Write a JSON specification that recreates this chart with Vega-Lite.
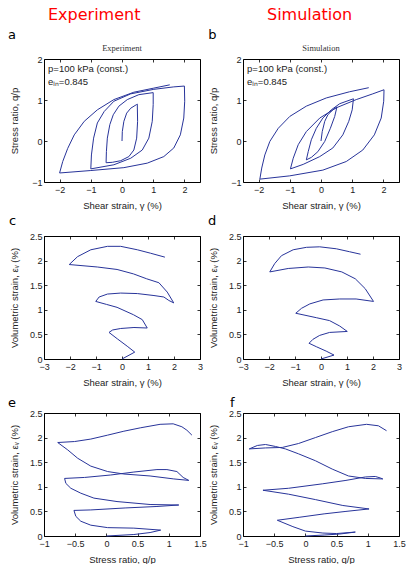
{
  "$schema": "https://vega.github.io/schema/vega-lite/v6.json",
  "padding": {"left": 7, "top": 6, "right": 1, "bottom": 0},
  "background": "white",
  "config": {
    "view": {"stroke": "#000", "strokeWidth": 1},
    "axis": {"domain": false, "grid": false, "tickColor": "#000", "tickSize": -3, "tickWidth": 0.8, "labelFlush": false, "labelOverlap": false, "labelFont": "Liberation Sans", "labelFontSize": 9, "labelColor": "#222", "titleFont": "Liberation Sans", "titleFontSize": 9.5, "titleFontWeight": "normal", "titleColor": "#222"},
    "axisX": {"labelPadding": 6, "minExtent": 16, "maxExtent": 16, "titlePadding": 2},
    "axisY": {"labelPadding": 5, "minExtent": 25, "maxExtent": 25, "titlePadding": 0},
    "title": {"font": "DejaVu Sans", "fontSize": 13, "fontWeight": "normal", "color": "#000", "anchor": "start", "frame": "group"}
  },
  "datasets": {
    "a": [
      {"i":0,"x":0,"y":0},{"i":1,"x":0.01,"y":0.23},{"i":2,"x":0.06,"y":0.48},{"i":3,"x":0.15,"y":0.68},{"i":4,"x":0.28,"y":0.8},{"i":5,"x":0.47,"y":0.89},{"i":6,"x":0.49,"y":0.9},
      {"i":7,"x":0.5,"y":0.48},{"i":8,"x":0.47,"y":0.07},{"i":9,"x":0.38,"y":-0.22},{"i":10,"x":0.22,"y":-0.38},{"i":11,"x":-0.04,"y":-0.48},{"i":12,"x":-0.31,"y":-0.52},{"i":13,"x":-0.51,"y":-0.53},
      {"i":14,"x":-0.5,"y":-0.26},{"i":15,"x":-0.47,"y":0.07},{"i":16,"x":-0.39,"y":0.4},{"i":17,"x":-0.28,"y":0.64},{"i":18,"x":-0.1,"y":0.85},{"i":19,"x":0.17,"y":1.01},{"i":20,"x":0.54,"y":1.13},{"i":21,"x":1.0,"y":1.18},
      {"i":22,"x":1.0,"y":0.89},{"i":23,"x":0.97,"y":0.48},{"i":24,"x":0.86,"y":0.07},{"i":25,"x":0.65,"y":-0.22},{"i":26,"x":0.28,"y":-0.42},{"i":27,"x":-0.26,"y":-0.58},{"i":28,"x":-1.0,"y":-0.68},
      {"i":29,"x":-0.98,"y":-0.34},{"i":30,"x":-0.91,"y":0.07},{"i":31,"x":-0.79,"y":0.44},{"i":32,"x":-0.57,"y":0.72},{"i":33,"x":-0.26,"y":0.97},{"i":34,"x":0.28,"y":1.15},{"i":35,"x":1.02,"y":1.26},{"i":36,"x":1.66,"y":1.32},{"i":37,"x":2.0,"y":1.34},
      {"i":38,"x":2.01,"y":0.97},{"i":39,"x":1.98,"y":0.56},{"i":40,"x":1.87,"y":0.15},{"i":41,"x":1.66,"y":-0.17},{"i":42,"x":1.34,"y":-0.38},{"i":43,"x":0.81,"y":-0.54},{"i":44,"x":0.06,"y":-0.65},{"i":45,"x":-1.0,"y":-0.72},{"i":46,"x":-2.0,"y":-0.78},
      {"i":47,"x":-1.9,"y":-0.5},{"i":48,"x":-1.74,"y":-0.18},{"i":49,"x":-1.53,"y":0.15},{"i":50,"x":-1.21,"y":0.48},{"i":51,"x":-0.79,"y":0.76},{"i":52,"x":-0.26,"y":1.01},{"i":53,"x":0.38,"y":1.19},{"i":54,"x":1.02,"y":1.29},{"i":55,"x":1.53,"y":1.37}
    ],
    "b": [
      {"i":0,"x":0,"y":0},{"i":1,"x":0.04,"y":0.23},{"i":2,"x":0.12,"y":0.48},{"i":3,"x":0.22,"y":0.64},{"i":4,"x":0.38,"y":0.76},{"i":5,"x":0.51,"y":0.83},
      {"i":6,"x":0.44,"y":0.6},{"i":7,"x":0.3,"y":0.31},{"i":8,"x":0.12,"y":-0.01},{"i":9,"x":-0.1,"y":-0.26},{"i":10,"x":-0.31,"y":-0.4},{"i":11,"x":-0.47,"y":-0.46},
      {"i":12,"x":-0.41,"y":-0.26},{"i":13,"x":-0.31,"y":0.03},{"i":14,"x":-0.15,"y":0.31},{"i":15,"x":0.06,"y":0.56},{"i":16,"x":0.33,"y":0.76},{"i":17,"x":0.6,"y":0.91},{"i":18,"x":1.04,"y":1.03},
      {"i":19,"x":1.0,"y":0.76},{"i":20,"x":0.89,"y":0.48},{"i":21,"x":0.7,"y":0.15},{"i":22,"x":0.38,"y":-0.17},{"i":23,"x":-0.04,"y":-0.38},{"i":24,"x":-0.57,"y":-0.57},{"i":25,"x":-0.98,"y":-0.68},
      {"i":26,"x":-0.89,"y":-0.42},{"i":27,"x":-0.73,"y":-0.09},{"i":28,"x":-0.47,"y":0.23},{"i":29,"x":-0.04,"y":0.56},{"i":30,"x":0.49,"y":0.81},{"i":31,"x":1.13,"y":1.01},{"i":32,"x":1.66,"y":1.15},{"i":33,"x":2.02,"y":1.25},
      {"i":34,"x":2.01,"y":0.97},{"i":35,"x":1.93,"y":0.56},{"i":36,"x":1.71,"y":0.15},{"i":37,"x":1.34,"y":-0.22},{"i":38,"x":0.81,"y":-0.5},{"i":39,"x":0.06,"y":-0.71},{"i":40,"x":-1.0,"y":-0.85},{"i":41,"x":-1.96,"y":-0.93},
      {"i":42,"x":-1.9,"y":-0.66},{"i":43,"x":-1.8,"y":-0.34},{"i":44,"x":-1.64,"y":-0.01},{"i":45,"x":-1.37,"y":0.31},{"i":46,"x":-1.0,"y":0.6},{"i":47,"x":-0.47,"y":0.85},{"i":48,"x":0.17,"y":1.05},{"i":49,"x":0.91,"y":1.2},{"i":50,"x":1.53,"y":1.3}
    ],
    "c": [
      {"i":0,"x":0,"y":0},{"i":1,"x":0.49,"y":0.14},{"i":2,"x":0.2,"y":0.26},{"i":3,"x":-0.18,"y":0.41},{"i":4,"x":-0.5,"y":0.54},
      {"i":5,"x":-0.36,"y":0.59},{"i":6,"x":-0.05,"y":0.62},{"i":7,"x":0.46,"y":0.64},{"i":8,"x":0.97,"y":0.63},
      {"i":9,"x":0.78,"y":0.8},{"i":10,"x":0.44,"y":0.9},{"i":11,"x":-0.19,"y":1.05},{"i":12,"x":-0.6,"y":1.11},{"i":13,"x":-1.01,"y":1.17},
      {"i":14,"x":-0.88,"y":1.26},{"i":15,"x":-0.56,"y":1.32},{"i":16,"x":-0.05,"y":1.34},{"i":17,"x":0.59,"y":1.33},{"i":18,"x":1.23,"y":1.29},{"i":19,"x":1.61,"y":1.26},{"i":20,"x":1.8,"y":1.19},{"i":21,"x":1.99,"y":1.14},
      {"i":22,"x":1.74,"y":1.36},{"i":23,"x":1.42,"y":1.55},{"i":24,"x":0.95,"y":1.63},{"i":25,"x":0.44,"y":1.73},{"i":26,"x":-0.19,"y":1.82},{"i":27,"x":-0.95,"y":1.87},{"i":28,"x":-2.03,"y":1.92},
      {"i":29,"x":-1.71,"y":2.08},{"i":30,"x":-1.2,"y":2.22},{"i":31,"x":-0.56,"y":2.29},{"i":32,"x":-0.05,"y":2.29},{"i":33,"x":0.59,"y":2.22},{"i":34,"x":1.1,"y":2.15},{"i":35,"x":1.65,"y":2.07}
    ],
    "d": [
      {"i":0,"x":0,"y":0},{"i":1,"x":0.5,"y":0.08},{"i":2,"x":0.2,"y":0.16},{"i":3,"x":-0.18,"y":0.25},{"i":4,"x":-0.46,"y":0.32},
      {"i":5,"x":-0.31,"y":0.4},{"i":6,"x":-0.05,"y":0.48},{"i":7,"x":0.33,"y":0.54},{"i":8,"x":1.01,"y":0.56},
      {"i":9,"x":0.72,"y":0.67},{"i":10,"x":0.33,"y":0.78},{"i":11,"x":-0.18,"y":0.84},{"i":12,"x":-0.97,"y":0.93},
      {"i":13,"x":-0.75,"y":1.03},{"i":14,"x":-0.43,"y":1.12},{"i":15,"x":0.08,"y":1.2},{"i":16,"x":0.72,"y":1.22},{"i":17,"x":1.35,"y":1.22},{"i":18,"x":2.02,"y":1.17},
      {"i":19,"x":1.7,"y":1.43},{"i":20,"x":1.32,"y":1.63},{"i":21,"x":0.8,"y":1.77},{"i":22,"x":0.15,"y":1.85},{"i":23,"x":-0.49,"y":1.87},{"i":24,"x":-1.26,"y":1.84},{"i":25,"x":-1.97,"y":1.77},
      {"i":26,"x":-1.78,"y":1.94},{"i":27,"x":-1.52,"y":2.1},{"i":28,"x":-1.07,"y":2.22},{"i":29,"x":-0.56,"y":2.27},{"i":30,"x":-0.05,"y":2.28},{"i":31,"x":0.59,"y":2.24},{"i":32,"x":1.1,"y":2.18},{"i":33,"x":1.52,"y":2.13}
    ],
    "e": [
      {"i":0,"x":0,"y":0},{"i":1,"x":0.44,"y":0.03},{"i":2,"x":0.7,"y":0.07},{"i":3,"x":0.87,"y":0.12},
      {"i":4,"x":0.44,"y":0.16},{"i":5,"x":0.02,"y":0.17},{"i":6,"x":-0.25,"y":0.22},{"i":7,"x":-0.41,"y":0.3},{"i":8,"x":-0.49,"y":0.4},{"i":9,"x":-0.52,"y":0.52},
      {"i":10,"x":-0.25,"y":0.53},{"i":11,"x":0.3,"y":0.57},{"i":12,"x":0.81,"y":0.6},{"i":13,"x":1.16,"y":0.63},
      {"i":14,"x":0.7,"y":0.64},{"i":15,"x":0.17,"y":0.7},{"i":16,"x":-0.2,"y":0.77},{"i":17,"x":-0.41,"y":0.87},{"i":18,"x":-0.57,"y":0.97},{"i":19,"x":-0.65,"y":1.07},{"i":20,"x":-0.67,"y":1.17},
      {"i":21,"x":-0.35,"y":1.19},{"i":22,"x":0.07,"y":1.24},{"i":23,"x":0.44,"y":1.3},{"i":24,"x":0.81,"y":1.35},{"i":25,"x":0.97,"y":1.35},{"i":26,"x":1.13,"y":1.31},{"i":27,"x":1.23,"y":1.19},{"i":28,"x":1.32,"y":1.13},
      {"i":29,"x":1.08,"y":1.16},{"i":30,"x":0.7,"y":1.22},{"i":31,"x":0.28,"y":1.26},{"i":32,"x":0.02,"y":1.31},{"i":33,"x":-0.25,"y":1.42},{"i":34,"x":-0.46,"y":1.58},{"i":35,"x":-0.62,"y":1.75},{"i":36,"x":-0.78,"y":1.9},
      {"i":37,"x":-0.51,"y":1.92},{"i":38,"x":-0.25,"y":1.97},{"i":39,"x":0.02,"y":2.05},{"i":40,"x":0.28,"y":2.13},{"i":41,"x":0.55,"y":2.2},{"i":42,"x":0.86,"y":2.27},{"i":43,"x":1.07,"y":2.28},{"i":44,"x":1.21,"y":2.22},{"i":45,"x":1.29,"y":2.15},{"i":46,"x":1.37,"y":2.05}
    ],
    "f": [
      {"i":0,"x":0,"y":0},{"i":1,"x":0.3,"y":0.02},{"i":2,"x":0.55,"y":0.04},{"i":3,"x":0.8,"y":0.08},
      {"i":4,"x":0.5,"y":0.05},{"i":5,"x":0.28,"y":0.06},{"i":6,"x":0,"y":0.1},{"i":7,"x":-0.2,"y":0.19},{"i":8,"x":-0.45,"y":0.32},
      {"i":9,"x":-0.1,"y":0.38},{"i":10,"x":0.3,"y":0.45},{"i":11,"x":0.65,"y":0.5},{"i":12,"x":1.02,"y":0.55},
      {"i":13,"x":0.6,"y":0.62},{"i":14,"x":0.16,"y":0.74},{"i":15,"x":-0.27,"y":0.85},{"i":16,"x":-0.68,"y":0.93},
      {"i":17,"x":-0.27,"y":0.97},{"i":18,"x":0.27,"y":1.06},{"i":19,"x":0.65,"y":1.13},{"i":20,"x":0.96,"y":1.2},{"i":21,"x":1.12,"y":1.21},{"i":22,"x":1.2,"y":1.18},{"i":23,"x":1.24,"y":1.16},
      {"i":24,"x":0.96,"y":1.17},{"i":25,"x":0.69,"y":1.22},{"i":26,"x":0.43,"y":1.36},{"i":27,"x":0.16,"y":1.53},{"i":28,"x":-0.11,"y":1.67},{"i":29,"x":-0.32,"y":1.77},{"i":30,"x":-0.48,"y":1.82},{"i":31,"x":-0.64,"y":1.86},{"i":32,"x":-0.77,"y":1.84},{"i":33,"x":-0.9,"y":1.77},
      {"i":34,"x":-0.64,"y":1.79},{"i":35,"x":-0.37,"y":1.8},{"i":36,"x":-0.11,"y":1.88},{"i":37,"x":0.16,"y":2.0},{"i":38,"x":0.43,"y":2.12},{"i":39,"x":0.69,"y":2.22},{"i":40,"x":0.98,"y":2.27},{"i":41,"x":1.17,"y":2.24},{"i":42,"x":1.3,"y":2.14}
    ]
  },
  "columns": 2,
  "spacing": {"row": 54, "column": 43},
  "bounds": "flush",
  "concat": [
    {
      "width": 156, "height": 123,
      "title": {"text": "Experiment", "font": "DejaVu Sans", "fontSize": 16, "color": "#ff0000", "dx": 4, "offset": 6},
      "resolve": {"axis": {"x": "independent", "y": "independent"}},
      "layer": [
        {"data": {"name": "a"}, "mark": {"type": "line", "color": "#28349a", "strokeWidth": 1},
         "encoding": {
           "x": {"field": "x", "type": "quantitative", "scale": {"domain": [-2.5, 2.5], "nice": false, "zero": false}, "axis": {"title": "Shear strain, γ (%)", "values": [-2, -1, 0, 1, 2], "format": "~g"}},
           "y": {"field": "y", "type": "quantitative", "scale": {"domain": [-1, 2], "nice": false, "zero": false}, "axis": {"title": "Stress ratio, q/p", "values": [-1, 0, 1, 2], "format": "~g"}},
           "order": {"field": "i"}}},
        {"data": {"name": "a"}, "mark": {"type": "line", "strokeOpacity": 0},
         "encoding": {
           "x": {"field": "x", "type": "quantitative", "scale": {"domain": [-2.5, 2.5], "nice": false, "zero": false}, "axis": {"orient": "top", "labels": false, "title": null, "minExtent": 0, "values": [-2, -1, 0, 1, 2]}},
           "y": {"field": "y", "type": "quantitative", "scale": {"domain": [-1, 2], "nice": false, "zero": false}, "axis": {"orient": "right", "labels": false, "title": null, "minExtent": 0, "values": [-1, 0, 1, 2]}},
           "order": {"field": "i"}}},
        {"data": {"values": [{}]}, "mark": {"type": "text", "align": "left", "baseline": "alphabetic", "font": "DejaVu Sans", "fontSize": 13, "color": "#000"},
         "encoding": {"x": {"datum": -3.65, "type": "quantitative", "axis": null}, "y": {"datum": 2.49, "type": "quantitative", "axis": null}, "text": {"value": "a"}}},
        {"data": {"values": [{}]}, "mark": {"type": "text", "align": "center", "baseline": "alphabetic", "font": "Liberation Serif", "fontSize": 8.5, "color": "#333"},
         "encoding": {"x": {"datum": 0, "type": "quantitative", "axis": null}, "y": {"datum": 2.195, "type": "quantitative", "axis": null}, "text": {"value": "Experiment"}}},
        {"data": {"values": [{}]}, "mark": {"type": "text", "align": "left", "baseline": "alphabetic", "font": "Liberation Sans", "fontSize": 9.5, "color": "#222"},
         "encoding": {"x": {"datum": -2.37, "type": "quantitative", "axis": null}, "y": {"datum": 1.68, "type": "quantitative", "axis": null}, "text": {"value": "p=100 kPa (const.)"}}},
        {"data": {"values": [{}]}, "mark": {"type": "text", "align": "left", "baseline": "alphabetic", "font": "Liberation Sans", "fontSize": 9.5, "color": "#222"},
         "encoding": {"x": {"datum": -2.37, "type": "quantitative", "axis": null}, "y": {"datum": 1.37, "type": "quantitative", "axis": null}, "text": {"value": "eᵢₙ=0.845"}}}
      ]
    },
    {
      "width": 156, "height": 123,
      "title": {"text": "Simulation", "font": "DejaVu Sans", "fontSize": 16, "color": "#ff0000", "dx": 24, "offset": 6},
      "resolve": {"axis": {"x": "independent", "y": "independent"}},
      "layer": [
        {"data": {"name": "b"}, "mark": {"type": "line", "color": "#28349a", "strokeWidth": 1},
         "encoding": {
           "x": {"field": "x", "type": "quantitative", "scale": {"domain": [-2.5, 2.5], "nice": false, "zero": false}, "axis": {"title": "Shear strain, γ (%)", "values": [-2, -1, 0, 1, 2], "format": "~g"}},
           "y": {"field": "y", "type": "quantitative", "scale": {"domain": [-1, 2], "nice": false, "zero": false}, "axis": {"title": "Stress ratio, q/p", "values": [-1, 0, 1, 2], "format": "~g"}},
           "order": {"field": "i"}}},
        {"data": {"name": "b"}, "mark": {"type": "line", "strokeOpacity": 0},
         "encoding": {
           "x": {"field": "x", "type": "quantitative", "scale": {"domain": [-2.5, 2.5], "nice": false, "zero": false}, "axis": {"orient": "top", "labels": false, "title": null, "minExtent": 0, "values": [-2, -1, 0, 1, 2]}},
           "y": {"field": "y", "type": "quantitative", "scale": {"domain": [-1, 2], "nice": false, "zero": false}, "axis": {"orient": "right", "labels": false, "title": null, "minExtent": 0, "values": [-1, 0, 1, 2]}},
           "order": {"field": "i"}}},
        {"data": {"values": [{}]}, "mark": {"type": "text", "align": "left", "baseline": "alphabetic", "font": "DejaVu Sans", "fontSize": 13, "color": "#000"},
         "encoding": {"x": {"datum": -3.61, "type": "quantitative", "axis": null}, "y": {"datum": 2.49, "type": "quantitative", "axis": null}, "text": {"value": "b"}}},
        {"data": {"values": [{}]}, "mark": {"type": "text", "align": "center", "baseline": "alphabetic", "font": "Liberation Serif", "fontSize": 8.5, "color": "#333"},
         "encoding": {"x": {"datum": 0, "type": "quantitative", "axis": null}, "y": {"datum": 2.195, "type": "quantitative", "axis": null}, "text": {"value": "Simulation"}}},
        {"data": {"values": [{}]}, "mark": {"type": "text", "align": "left", "baseline": "alphabetic", "font": "Liberation Sans", "fontSize": 9.5, "color": "#222"},
         "encoding": {"x": {"datum": -2.37, "type": "quantitative", "axis": null}, "y": {"datum": 1.68, "type": "quantitative", "axis": null}, "text": {"value": "p=100 kPa (const.)"}}},
        {"data": {"values": [{}]}, "mark": {"type": "text", "align": "left", "baseline": "alphabetic", "font": "Liberation Sans", "fontSize": 9.5, "color": "#222"},
         "encoding": {"x": {"datum": -2.37, "type": "quantitative", "axis": null}, "y": {"datum": 1.37, "type": "quantitative", "axis": null}, "text": {"value": "eᵢₙ=0.845"}}}
      ]
    },
    {
      "width": 156, "height": 123,
      "title": {"text": "c", "dx": -35, "offset": 4},
      "resolve": {"axis": {"x": "independent", "y": "independent"}},
      "layer": [
        {"data": {"name": "c"}, "mark": {"type": "line", "color": "#28349a", "strokeWidth": 1},
         "encoding": {
           "x": {"field": "x", "type": "quantitative", "scale": {"domain": [-3, 3], "nice": false, "zero": false}, "axis": {"title": "Shear strain, γ (%)", "values": [-3, -2, -1, 0, 1, 2, 3], "format": "~g"}},
           "y": {"field": "y", "type": "quantitative", "scale": {"domain": [0, 2.5], "nice": false, "zero": false}, "axis": {"title": "Volumetric strain, εᵥ (%)", "values": [0, 0.5, 1, 1.5, 2, 2.5], "format": "~g"}},
           "order": {"field": "i"}}},
        {"data": {"name": "c"}, "mark": {"type": "line", "strokeOpacity": 0},
         "encoding": {
           "x": {"field": "x", "type": "quantitative", "scale": {"domain": [-3, 3], "nice": false, "zero": false}, "axis": {"orient": "top", "labels": false, "title": null, "minExtent": 0, "values": [-3, -2, -1, 0, 1, 2, 3]}},
           "y": {"field": "y", "type": "quantitative", "scale": {"domain": [0, 2.5], "nice": false, "zero": false}, "axis": {"orient": "right", "labels": false, "title": null, "minExtent": 0, "values": [0, 0.5, 1, 1.5, 2, 2.5]}},
           "order": {"field": "i"}}}
      ]
    },
    {
      "width": 156, "height": 123,
      "title": {"text": "d", "dx": -35, "offset": 4},
      "resolve": {"axis": {"x": "independent", "y": "independent"}},
      "layer": [
        {"data": {"name": "d"}, "mark": {"type": "line", "color": "#28349a", "strokeWidth": 1},
         "encoding": {
           "x": {"field": "x", "type": "quantitative", "scale": {"domain": [-3, 3], "nice": false, "zero": false}, "axis": {"title": "Shear strain, γ (%)", "values": [-3, -2, -1, 0, 1, 2, 3], "format": "~g"}},
           "y": {"field": "y", "type": "quantitative", "scale": {"domain": [0, 2.5], "nice": false, "zero": false}, "axis": {"title": "Volumetric strain, εᵥ (%)", "values": [0, 0.5, 1, 1.5, 2, 2.5], "format": "~g"}},
           "order": {"field": "i"}}},
        {"data": {"name": "d"}, "mark": {"type": "line", "strokeOpacity": 0},
         "encoding": {
           "x": {"field": "x", "type": "quantitative", "scale": {"domain": [-3, 3], "nice": false, "zero": false}, "axis": {"orient": "top", "labels": false, "title": null, "minExtent": 0, "values": [-3, -2, -1, 0, 1, 2, 3]}},
           "y": {"field": "y", "type": "quantitative", "scale": {"domain": [0, 2.5], "nice": false, "zero": false}, "axis": {"orient": "right", "labels": false, "title": null, "minExtent": 0, "values": [0, 0.5, 1, 1.5, 2, 2.5]}},
           "order": {"field": "i"}}}
      ]
    },
    {
      "width": 156, "height": 123,
      "title": {"text": "e", "dx": -36, "offset": -1},
      "resolve": {"axis": {"x": "independent", "y": "independent"}},
      "layer": [
        {"data": {"name": "e"}, "mark": {"type": "line", "color": "#28349a", "strokeWidth": 1},
         "encoding": {
           "x": {"field": "x", "type": "quantitative", "scale": {"domain": [-1, 1.5], "nice": false, "zero": false}, "axis": {"title": "Stress ratio, q/p", "values": [-1, -0.5, 0, 0.5, 1, 1.5], "format": "~g"}},
           "y": {"field": "y", "type": "quantitative", "scale": {"domain": [0, 2.5], "nice": false, "zero": false}, "axis": {"title": "Volumetric strain, εᵥ (%)", "values": [0, 0.5, 1, 1.5, 2, 2.5], "format": "~g"}},
           "order": {"field": "i"}}},
        {"data": {"name": "e"}, "mark": {"type": "line", "strokeOpacity": 0},
         "encoding": {
           "x": {"field": "x", "type": "quantitative", "scale": {"domain": [-1, 1.5], "nice": false, "zero": false}, "axis": {"orient": "top", "labels": false, "title": null, "minExtent": 0, "values": [-1, -0.5, 0, 0.5, 1, 1.5]}},
           "y": {"field": "y", "type": "quantitative", "scale": {"domain": [0, 2.5], "nice": false, "zero": false}, "axis": {"orient": "right", "labels": false, "title": null, "minExtent": 0, "values": [0, 0.5, 1, 1.5, 2, 2.5]}},
           "order": {"field": "i"}}}
      ]
    },
    {
      "width": 156, "height": 123,
      "title": {"text": "f", "dx": -13, "offset": -1},
      "resolve": {"axis": {"x": "independent", "y": "independent"}},
      "layer": [
        {"data": {"name": "f"}, "mark": {"type": "line", "color": "#28349a", "strokeWidth": 1},
         "encoding": {
           "x": {"field": "x", "type": "quantitative", "scale": {"domain": [-1, 1.5], "nice": false, "zero": false}, "axis": {"title": "Stress ratio, q/p", "values": [-1, -0.5, 0, 0.5, 1, 1.5], "format": "~g"}},
           "y": {"field": "y", "type": "quantitative", "scale": {"domain": [0, 2.5], "nice": false, "zero": false}, "axis": {"title": "Volumetric strain, εᵥ (%)", "values": [0, 0.5, 1, 1.5, 2, 2.5], "format": "~g"}},
           "order": {"field": "i"}}},
        {"data": {"name": "f"}, "mark": {"type": "line", "strokeOpacity": 0},
         "encoding": {
           "x": {"field": "x", "type": "quantitative", "scale": {"domain": [-1, 1.5], "nice": false, "zero": false}, "axis": {"orient": "top", "labels": false, "title": null, "minExtent": 0, "values": [-1, -0.5, 0, 0.5, 1, 1.5]}},
           "y": {"field": "y", "type": "quantitative", "scale": {"domain": [0, 2.5], "nice": false, "zero": false}, "axis": {"orient": "right", "labels": false, "title": null, "minExtent": 0, "values": [0, 0.5, 1, 1.5, 2, 2.5]}},
           "order": {"field": "i"}}}
      ]
    }
  ]
}
